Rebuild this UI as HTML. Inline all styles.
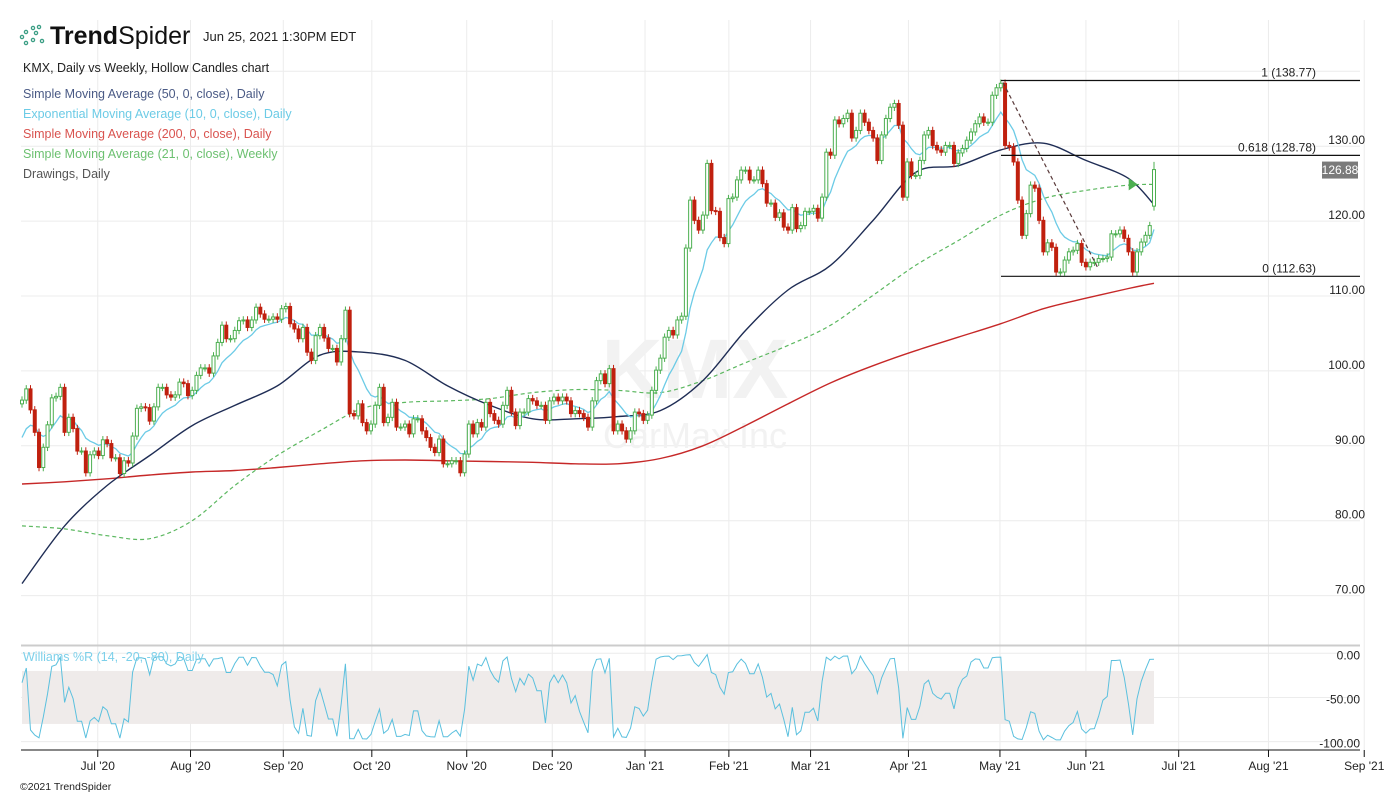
<!DOCTYPE html>
<html><head><meta charset="utf-8"><style>
html,body{margin:0;padding:0;background:#fff;width:1391px;height:796px;overflow:hidden;font-family:"Liberation Sans",sans-serif}
svg{display:block}
</style></head><body>
<svg id="chart" width="1391" height="796" viewBox="0 0 1391 796" xmlns="http://www.w3.org/2000/svg">
<g id="grid"></g>
<g>
<text x="695" y="398" text-anchor="middle" font-size="84" font-weight="bold" fill="#f2f2f2">KMX</text>
<text x="695" y="448" text-anchor="middle" font-size="36" fill="#f2f2f2">CarMax Inc</text>
</g>
<g id="band"></g>
<g id="lines"></g>
<g id="candles"></g>
<g id="drawings"></g>
<g id="axes"></g>
<g>
<g fill="none" stroke="#3a9e84" stroke-width="1.3">
<circle cx="22" cy="37" r="1.6"/><circle cx="26" cy="32" r="1.6"/><circle cx="33" cy="28" r="1.6"/><circle cx="39" cy="27" r="1.6"/><circle cx="36" cy="33" r="1.6"/><circle cx="42" cy="41" r="1.6"/><circle cx="33" cy="40" r="1.6"/><circle cx="26" cy="43" r="1.6"/>
</g>
<text x="50" y="44" font-size="25" fill="#111"><tspan font-weight="bold">Trend</tspan>Spider</text>
<text x="203" y="41" font-size="13" fill="#222">Jun 25, 2021 1:30PM EDT</text>
<text x="23" y="72" font-size="12.5" fill="#222">KMX, Daily vs Weekly, Hollow Candles chart</text>
<text x="23" y="98" font-size="12.5" fill="#4a5a85">Simple Moving Average (50, 0, close), Daily</text>
<text x="23" y="118" font-size="12.5" fill="#6ccbe6">Exponential Moving Average (10, 0, close), Daily</text>
<text x="23" y="138" font-size="12.5" fill="#d9534f">Simple Moving Average (200, 0, close), Daily</text>
<text x="23" y="158" font-size="12.5" fill="#6cc070">Simple Moving Average (21, 0, close), Weekly</text>
<text x="23" y="178" font-size="12.5" fill="#555">Drawings, Daily</text>
<text x="23" y="661" font-size="12.5" fill="#7dd0ea">Williams %R (14, -20, -80), Daily</text>
<text x="20" y="790" font-size="10.5" fill="#222">©2021 TrendSpider</text>
</g>
</svg>
<script>
const closes=[96.1,97.6,94.8,91.8,87.1,89.8,92.8,96.4,96.6,97.8,91.8,93.8,92.3,89.3,89.3,86.4,88.8,89.3,88.7,90.8,90.3,88.4,88.4,86.3,88.0,87.7,91.3,95.0,95.2,95.1,93.3,95.2,97.8,97.8,96.8,96.5,96.8,98.5,98.3,96.7,97.4,99.4,100.4,100.4,99.7,102.0,103.8,106.1,104.3,104.3,105.4,106.7,106.8,105.8,106.8,108.5,107.6,106.9,106.9,107.2,106.9,108.3,108.6,106.3,105.6,104.3,105.8,102.5,101.4,104.7,105.8,104.4,103.0,103.0,101.2,104.3,108.1,94.3,94.0,95.6,93.1,92.0,92.9,95.4,97.8,93.1,
93.8,95.8,92.5,92.5,92.9,91.6,93.6,93.6,92.0,91.1,89.8,89.1,90.9,87.6,87.6,88.0,88.0,86.4,88.9,92.9,91.6,93.1,92.5,95.8,94.3,93.4,92.9,95.4,97.4,94.5,92.7,94.5,94.5,96.3,96.0,95.4,95.4,93.4,96.0,96.5,96.0,96.5,96.0,94.3,94.7,94.3,93.8,92.5,96.0,98.7,99.6,98.3,100.3,92.0,92.9,92.0,90.9,92.0,94.5,94.3,93.4,94.1,97.4,100.1,101.7,104.5,105.4,104.8,106.8,107.3,
116.4,122.8,120.1,118.8,120.8,127.7,121.4,121.3,117.8,117.0,123.0,123.2,125.5,126.8,126.8,125.5,125.5,126.8,125.0,122.4,122.4,120.5,121.1,119.2,118.8,121.8,119.0,119.4,121.3,121.3,121.7,120.4,123.2,129.2,128.8,133.5,133.0,133.7,134.4,131.1,132.1,134.4,133.2,132.1,131.1,128.1,131.5,133.7,135.2,135.7,132.8,123.2,127.9,126.1,126.1,128.1,131.5,132.1,130.1,129.5,129.2,130.1,130.1,127.7,129.1,129.7,130.8,131.9,133.0,133.9,133.2,133.2,136.8,137.8,138.4,
130.1,129.9,127.9,122.8,118.1,121.0,124.8,124.4,120.1,115.9,117.1,116.5,113.2,113.2,114.8,115.9,116.1,117.0,114.5,113.9,114.5,114.5,115.0,115.0,115.2,118.3,118.3,118.8,117.7,115.9,113.2,115.9,117.2,118.1,119.4,126.88];
const lastOpen=[122.0];
const lastHigh=[127.9];
const lastLow=[121.4];
const sma50=[71.6,79.3,84.7,88.7,92.7,95.4,98.0,102.1,102.5,101.4,98.0,95.4,93.6,93.6,93.9,94.7,98.7,105.4,110.8,114.1,120.1,126.5,127.4,129.5,130.4,128.1,125.7,122.2];
const sma200=[84.9,85.2,85.6,86.1,86.5,86.7,87.1,87.6,88.0,88.1,88.0,87.9,87.8,87.6,87.6,88.3,90.0,92.7,95.6,98.4,100.7,102.7,104.5,106.3,108.3,109.7,111.0,111.7];
const sma21w=[79.3,78.9,78.0,77.6,80.0,84.7,88.7,92.0,95.0,95.8,96.0,96.3,97.1,97.5,97.4,97.1,98.7,101.1,103.4,106.1,110.1,114.1,117.4,120.8,123.0,124.1,124.8,124.9];
const emaSeed=[90.0];
const priceTicks=[140,130,120,110,100,90,80,70];
const priceLabels=["","130.00","120.00","110.00","100.00","90.00","80.00","70.00"];
const wrTicks=[0,-50,-100];
const wrLabels=["0.00","-50.00","-100.00"];
const monthLabels=["Jul '20","Aug '20","Sep '20","Oct '20","Nov '20","Dec '20","Jan '21","Feb '21","Mar '21","Apr '21","May '21","Jun '21","Jul '21","Aug '21","Sep '21"];
const monthIdx=[17.8,39.6,61.4,82.2,104.5,124.6,146.4,166.1,185.3,208.3,229.8,250,271.8,292.9,315.4];
const fibLevels=[138.77,128.78,112.63];
const fibNames=["1 (138.77)","0.618 (128.78)","0 (112.63)"];
const lastPrice=[126.88];

const NS="http://www.w3.org/2000/svg";
const n=closes.length;
const X0=22,X1=1154,dx=(X1-X0)/(n-1);
const xOf=i=>X0+i*dx;
const yP=v=>296-(v-110)*7.49;
const yW=v=>653.3-v*0.883;
function mk(tag,parent,attrs){const e=document.createElementNS(NS,tag);for(const k in attrs)e.setAttribute(k,attrs[k]);parent.appendChild(e);return e;}
const G=id=>document.getElementById(id);

const grid=G('grid');
priceTicks.forEach(v=>{const l=mk('line',grid,{x1:21,x2:1360,y1:yP(v),y2:yP(v),stroke:'#ececec','stroke-width':1});

});
monthIdx.forEach(i=>{const l=mk('line',grid,{x1:xOf(i),x2:xOf(i),y1:20,y2:750,stroke:'#ececec','stroke-width':1});

});
[yW(0),yW(-50),yW(-100)].forEach(y=>{const l=mk('line',grid,{x1:21,x2:1360,y1:y,y2:y,stroke:'#ececec'});

});

const band=G('band');
const br=mk('rect',band,{x:X0,y:yW(-20),width:X1-X0,height:yW(-80)-yW(-20),fill:'#efebea'});



const opens=closes.map((c,i)=>i===0?c-0.5:(i===n-1?lastOpen[0]:closes[i-1]));
const highs=closes.map((c,i)=>i===n-1?lastHigh[0]:Math.max(c,opens[i])+0.5);
const lows=closes.map((c,i)=>i===n-1?lastLow[0]:Math.min(c,opens[i])-0.5);
const cg=G('candles');
closes.forEach((c,i)=>{
  const o=opens[i],up=c>=o,col=up?'#4caf50':'#c0200f',x=xOf(i);
  const w=mk('line',cg,{x1:x,x2:x,y1:yP(highs[i]),y2:yP(lows[i]),stroke:col,'stroke-width':1});
  
  
  const top=yP(Math.max(o,c)),bot=yP(Math.min(o,c));
  const b=mk('rect',cg,{x:x-1.5,y:top,width:3,height:Math.max(1,bot-top),fill:up?'#fff':col,stroke:col,'stroke-width':1});
  
  
});

const lg=G('lines');
function sx(k,len){return xOf(k===len-1?n-1:k*10);}
function pathOf(arr,yf,xf){return arr.map((v,k)=>(k?'L':'M')+xf(k).toFixed(1)+','+yf(v).toFixed(1)).join('');}
function smoothPath(arr,yf,xf){
  const P=arr.map((v,k)=>[xf(k),yf(v)]);
  let d='M'+P[0][0].toFixed(1)+','+P[0][1].toFixed(1);
  for(let k=0;k<P.length-1;k++){
    const p0=P[Math.max(0,k-1)],p1=P[k],p2=P[k+1],p3=P[Math.min(P.length-1,k+2)];
    const c1=[p1[0]+(p2[0]-p0[0])/6,p1[1]+(p2[1]-p0[1])/6],c2=[p2[0]-(p3[0]-p1[0])/6,p2[1]-(p3[1]-p1[1])/6];
    d+='C'+c1[0].toFixed(1)+','+c1[1].toFixed(1)+' '+c2[0].toFixed(1)+','+c2[1].toFixed(1)+' '+p2[0].toFixed(1)+','+p2[1].toFixed(1);
  }
  return d;
}
const p200=mk('path',lg,{d:smoothPath(sma200,yP,k=>sx(k,sma200.length)),fill:'none',stroke:'#c62828','stroke-width':1.4});


const p21=mk('path',lg,{d:smoothPath(sma21w,yP,k=>sx(k,sma21w.length)),fill:'none',stroke:'#5cb860','stroke-width':1.2,'stroke-dasharray':'4,3'});


const p50=mk('path',lg,{d:smoothPath(sma50,yP,k=>sx(k,sma50.length)),fill:'none',stroke:'#1f2d55','stroke-width':1.4});


const ema=[];let e=emaSeed[0];const a=2/11;
closes.forEach(c=>{e=e+a*(c-e);ema.push(e);});
const pe=mk('path',lg,{d:pathOf(ema,yP,xOf),fill:'none',stroke:'#6ccbe6','stroke-width':1.3});


const tri=mk('path',lg,{d:`M${xOf(n-6)-4},${yP(sma21w[sma21w.length-1])-6}l9,6l-9,6z`,fill:'#4caf50'});



const wr=closes.map((c,i)=>{let hh=-1e9,ll=1e9;for(let j=Math.max(0,i-13);j<=i;j++){hh=Math.max(hh,highs[j]);ll=Math.min(ll,lows[j]);}return hh===ll?-50:(hh-c)/(hh-ll)*-100;});
const pw=mk('path',lg,{d:pathOf(wr,yW,xOf),fill:'none',stroke:'#5bc0de','stroke-width':1});



const dg=G('drawings');
fibLevels.forEach((v,k)=>{
  const l=mk('line',dg,{x1:1001,x2:1360,y1:yP(v),y2:yP(v),stroke:'#111','stroke-width':1.2});
  
  
  const t=mk('text',dg,{x:1316,y:yP(v)-4,'text-anchor':'end','font-size':12,fill:'#222'});t.textContent=fibNames[k];
  
  
});
const tl=mk('line',dg,{x1:1003,y1:yP(fibLevels[0])+2,x2:1098,y2:yP(fibLevels[2])-8,stroke:'#5a3a3a','stroke-width':1.2,'stroke-dasharray':'4,3'});



const ag=G('axes');
const sep=mk('line',ag,{x1:21,x2:1360,y1:645.5,y2:645.5,stroke:'#cccccc','stroke-width':2});


const xa=mk('line',ag,{x1:21,x2:1360,y1:750,y2:750,stroke:'#111','stroke-width':1});


priceTicks.forEach((v,k)=>{if(!priceLabels[k])return;const t=mk('text',ag,{x:1365,y:yP(v)-2,'text-anchor':'end','font-size':12,fill:'#222'});t.textContent=priceLabels[k];

});
wrTicks.forEach((v,k)=>{const t=mk('text',ag,{x:1360,y:yW(v)+6,'text-anchor':'end','font-size':12,fill:'#222'});t.textContent=wrLabels[k];

});
monthIdx.forEach((i,k)=>{const x=xOf(i);
const tk=mk('line',ag,{x1:x,x2:x,y1:750,y2:757,stroke:'#111'});


const t=mk('text',ag,{x:x,y:770,'text-anchor':'middle','font-size':12,fill:'#222'});t.textContent=monthLabels[k];

});
const py=yP(lastPrice[0]);
const tag=mk('rect',ag,{x:1322,y:py-8,width:36,height:17,fill:'#7a7a7a'});


const tt=mk('text',ag,{x:1340,y:py+4.5,'text-anchor':'middle','font-size':12,fill:'#fff'});tt.textContent=lastPrice[0].toFixed(2);


</script>
</body></html>
